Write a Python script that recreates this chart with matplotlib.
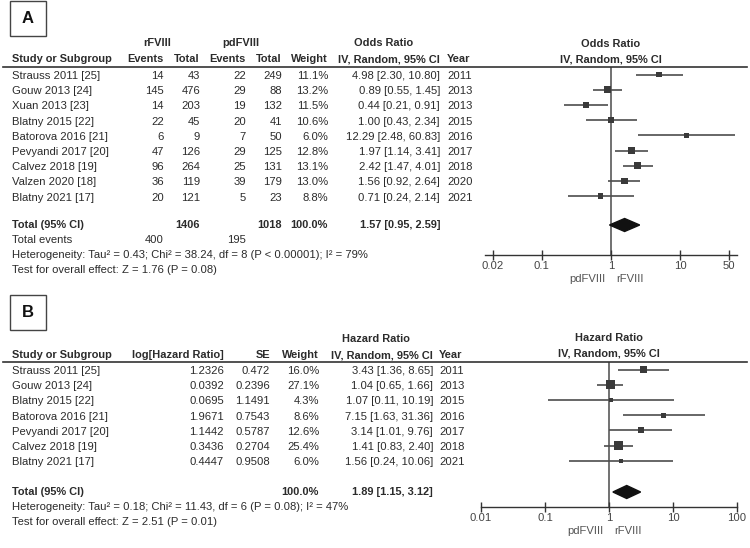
import matplotlib
matplotlib.use('Agg')
import matplotlib.pyplot as plt
import numpy as np
from matplotlib.lines import Line2D
from matplotlib.patches import Rectangle, Polygon
from matplotlib.ticker import FixedLocator, FixedFormatter, NullLocator

plt.rcParams['font.family'] = ['Liberation Sans', 'DejaVu Sans']

### panel A data (odds ratio) ###
a_study = ['Strauss 2011 [25]', 'Gouw 2013 [24]', 'Xuan 2013 [23]', 'Blatny 2015 [22]',
           'Batorova 2016 [21]', 'Pevyandi 2017 [20]', 'Calvez 2018 [19]',
           'Valzen 2020 [18]', 'Blatny 2021 [17]']
a_r_events = [14, 145, 14, 22, 6, 47, 96, 36, 20]
a_r_total = [43, 476, 203, 45, 9, 126, 264, 119, 121]
a_pd_events = [22, 29, 19, 20, 7, 29, 25, 39, 5]
a_pd_total = [249, 88, 132, 41, 50, 125, 131, 179, 23]
a_weight = [11.1, 13.2, 11.5, 10.6, 6.0, 12.8, 13.1, 13.0, 8.8]
a_or = [4.98, 0.89, 0.44, 1.00, 12.29, 1.97, 2.42, 1.56, 0.71]
a_lo = [2.30, 0.55, 0.21, 0.43, 2.48, 1.14, 1.47, 0.92, 0.24]
a_hi = [10.80, 1.45, 0.91, 2.34, 60.83, 3.41, 4.01, 2.64, 2.14]
a_year = [2011, 2013, 2013, 2015, 2016, 2017, 2018, 2020, 2021]
a_total = [1406, 1018]
a_total_events = [400, 195]
a_pooled = [1.57, 0.95, 2.59]
a_ticks = [0.02, 0.1, 1, 10, 50]
a_tick_labels = ['0.02', '0.1', '1', '10', '50']
a_het = 'Heterogeneity: Tau\u00b2 = 0.43; Chi\u00b2 = 38.24, df = 8 (P < 0.00001); I\u00b2 = 79%'
a_test = 'Test for overall effect: Z = 1.76 (P = 0.08)'

### panel B data (hazard ratio) ###
b_study = ['Strauss 2011 [25]', 'Gouw 2013 [24]', 'Blatny 2015 [22]', 'Batorova 2016 [21]',
           'Pevyandi 2017 [20]', 'Calvez 2018 [19]', 'Blatny 2021 [17]']
b_loghr = [1.2326, 0.0392, 0.0695, 1.9671, 1.1442, 0.3436, 0.4447]
b_se = [0.472, 0.2396, 1.1491, 0.7543, 0.5787, 0.2704, 0.9508]
b_weight = [16.0, 27.1, 4.3, 8.6, 12.6, 25.4, 6.0]
b_hr = [3.43, 1.04, 1.07, 7.15, 3.14, 1.41, 1.56]
b_lo = [1.36, 0.65, 0.11, 1.63, 1.01, 0.83, 0.24]
b_hi = [8.65, 1.66, 10.19, 31.36, 9.76, 2.40, 10.06]
b_year = [2011, 2013, 2015, 2016, 2017, 2018, 2021]
b_pooled = [1.89, 1.15, 3.12]
b_ticks = [0.01, 0.1, 1, 10, 100]
b_tick_labels = ['0.01', '0.1', '1', '10', '100']
b_het = 'Heterogeneity: Tau\u00b2 = 0.18; Chi\u00b2 = 11.43, df = 6 (P = 0.08); I\u00b2 = 47%'
b_test = 'Test for overall effect: Z = 2.51 (P = 0.01)'

W, H = 750, 548
FS = 8.1      # normal text
FSB = 7.9     # bold headers
TC = '#2b2b2b'
ROW = 15.2

fig = plt.figure(figsize=(W / 100, H / 100), dpi=100)


def txt(x, y, s, ha='left', bold=False, size=None, color=TC):
    if size is None:
        size = FSB if bold else FS
    fig.text(x / W, 1 - y / H, s, ha=ha, va='center', fontsize=size,
             fontweight='bold' if bold else 'normal', color=color)


def hline(x0, x1, y):
    fig.add_artist(Line2D([x0 / W, x1 / W], [1 - y / H, 1 - y / H], color='#333333', lw=1.2))


def label_box(x, y, s):
    fig.add_artist(Rectangle((x / W, 1 - (y + 35) / H), 36 / W, 35 / H, fill=False,
                             edgecolor='#444444', lw=1.0, transform=fig.transFigure))
    txt(x + 18, y + 17.5, s, ha='center', bold=True, size=12, color='#111111')


def forest(x0, x1, ytop, ybot, tick_lo, tick_hi, pad_px, ticks, tick_labels,
           est, lo, hi, weight, row0, pooled, pooled_y, kscale):
    ax = fig.add_axes([x0 / W, 1 - ybot / H, (x1 - x0) / W, (ybot - ytop) / H])
    ax.set_xscale('log')
    # px per decade from tick span, extend axis line by pad_px each side
    ppd = (x1 - x0 - 2 * pad_px) / np.log10(tick_hi / tick_lo)
    f = 10 ** (pad_px / ppd)
    ax.set_xlim(tick_lo / f, tick_hi * f)
    ax.set_ylim(ybot, ytop)
    ax.patch.set_alpha(0)
    for s in ['top', 'left', 'right']:
        ax.spines[s].set_visible(False)
    ax.spines['bottom'].set_color('#333333')
    ax.spines['bottom'].set_linewidth(1.0)
    ax.yaxis.set_major_locator(NullLocator())
    ax.xaxis.set_major_locator(FixedLocator(ticks))
    ax.xaxis.set_major_formatter(FixedFormatter(tick_labels))
    ax.xaxis.set_minor_locator(NullLocator())
    ax.tick_params(axis='x', direction='inout', length=7, width=1.0, color='#333333',
                   labelsize=FS, labelcolor='#444444', pad=1)
    ax.axvline(1, color='#666666', lw=1.3, zorder=1)
    ys = row0 + np.arange(len(est)) * ROW
    ax.hlines(ys, lo, hi, color='#4d4d4d', lw=1.2, zorder=2)
    side = kscale * np.sqrt(np.array(weight)) * 0.72
    ax.scatter(est, ys, s=side ** 2, marker='s', color='#3a3a3a', zorder=3, linewidths=0)
    p, plo, phi = pooled
    ax.add_patch(Polygon([(plo, pooled_y), (p, pooled_y - 6.5), (phi, pooled_y), (p, pooled_y + 6.5)],
                         closed=True, color='#111111', zorder=4))
    ax.annotate('pdFVIII', xy=(1, 0), xycoords=('data', 'axes fraction'), xytext=(-5, -24),
                textcoords='offset pixels', ha='right', va='center', fontsize=FS, color='#555555')
    ax.annotate('rFVIII', xy=(1, 0), xycoords=('data', 'axes fraction'), xytext=(5, -24),
                textcoords='offset pixels', ha='left', va='center', fontsize=FS, color='#555555')
    return ax


### panel A ###
label_box(10, 1, 'A')
txt(157, 43, 'rFVIII', ha='center', bold=True)
txt(241, 43, 'pdFVIII', ha='center', bold=True)
txt(384, 43, 'Odds Ratio', ha='center', bold=True)
txt(611, 44, 'Odds Ratio', ha='center', bold=True)
txt(12, 59, 'Study or Subgroup', bold=True)
txt(164, 59, 'Events', ha='right', bold=True)
txt(200, 59, 'Total', ha='right', bold=True)
txt(246, 59, 'Events', ha='right', bold=True)
txt(282, 59, 'Total', ha='right', bold=True)
txt(328, 59, 'Weight', ha='right', bold=True)
txt(440, 59, 'IV, Random, 95% CI', ha='right', bold=True)
txt(447, 59, 'Year', bold=True)
txt(611, 59, 'IV, Random, 95% CI', ha='center', bold=True)
hline(3, 747, 67)

a_row0 = 76
for i in range(len(a_study)):
    y = a_row0 + i * ROW
    txt(12, y, a_study[i])
    txt(164, y, str(a_r_events[i]), ha='right')
    txt(200, y, str(a_r_total[i]), ha='right')
    txt(246, y, str(a_pd_events[i]), ha='right')
    txt(282, y, str(a_pd_total[i]), ha='right')
    txt(328, y, f'{a_weight[i]:.1f}%', ha='right')
    txt(440, y, f'{a_or[i]:.2f} [{a_lo[i]:.2f}, {a_hi[i]:.2f}]', ha='right')
    txt(447, y, str(a_year[i]))

yt = 225
txt(12, yt, 'Total (95% CI)', bold=True)
txt(200, yt, str(a_total[0]), ha='right', bold=True)
txt(282, yt, str(a_total[1]), ha='right', bold=True)
txt(328, yt, '100.0%', ha='right', bold=True)
txt(440, yt, f'{a_pooled[0]:.2f} [{a_pooled[1]:.2f}, {a_pooled[2]:.2f}]', ha='right', bold=True)
txt(12, yt + 15, 'Total events')
txt(164, yt + 15, str(a_total_events[0]), ha='right')
txt(246, yt + 15, str(a_total_events[1]), ha='right')
txt(12, yt + 30, a_het)
txt(12, yt + 45, a_test)

forest(485, 737, 67, 255, a_ticks[0], a_ticks[-1], 8, a_ticks, a_tick_labels,
       a_or, a_lo, a_hi, a_weight, a_row0 - 1.5, a_pooled, yt, 1.8)

### panel B ###
label_box(10, 295, 'B')
txt(376, 339, 'Hazard Ratio', ha='center', bold=True)
txt(609, 338, 'Hazard Ratio', ha='center', bold=True)
txt(12, 355, 'Study or Subgroup', bold=True)
txt(224, 355, 'log[Hazard Ratio]', ha='right', bold=True)
txt(270, 355, 'SE', ha='right', bold=True)
txt(319, 355, 'Weight', ha='right', bold=True)
txt(433, 355, 'IV, Random, 95% CI', ha='right', bold=True)
txt(439, 355, 'Year', bold=True)
txt(609, 353, 'IV, Random, 95% CI', ha='center', bold=True)
hline(3, 747, 362)

b_row0 = 371
for i in range(len(b_study)):
    y = b_row0 + i * ROW
    txt(12, y, b_study[i])
    txt(224, y, f'{b_loghr[i]:g}', ha='right')
    txt(270, y, f'{b_se[i]:g}', ha='right')
    txt(319, y, f'{b_weight[i]:.1f}%', ha='right')
    txt(433, y, f'{b_hr[i]:.2f} [{b_lo[i]:.2f}, {b_hi[i]:.2f}]', ha='right')
    txt(439, y, str(b_year[i]))

yt = 492
txt(12, yt, 'Total (95% CI)', bold=True)
txt(319, yt, '100.0%', ha='right', bold=True)
txt(433, yt, f'{b_pooled[0]:.2f} [{b_pooled[1]:.2f}, {b_pooled[2]:.2f}]', ha='right', bold=True)
txt(12, yt + 15, b_het)
txt(12, yt + 30, b_test)

forest(481, 737, 362, 507, b_ticks[0], b_ticks[-1], 0, b_ticks, b_tick_labels,
       b_hr, b_lo, b_hi, b_weight, b_row0 - 1.5, b_pooled, yt, 1.7)

fig.savefig('out.png', dpi=100)
